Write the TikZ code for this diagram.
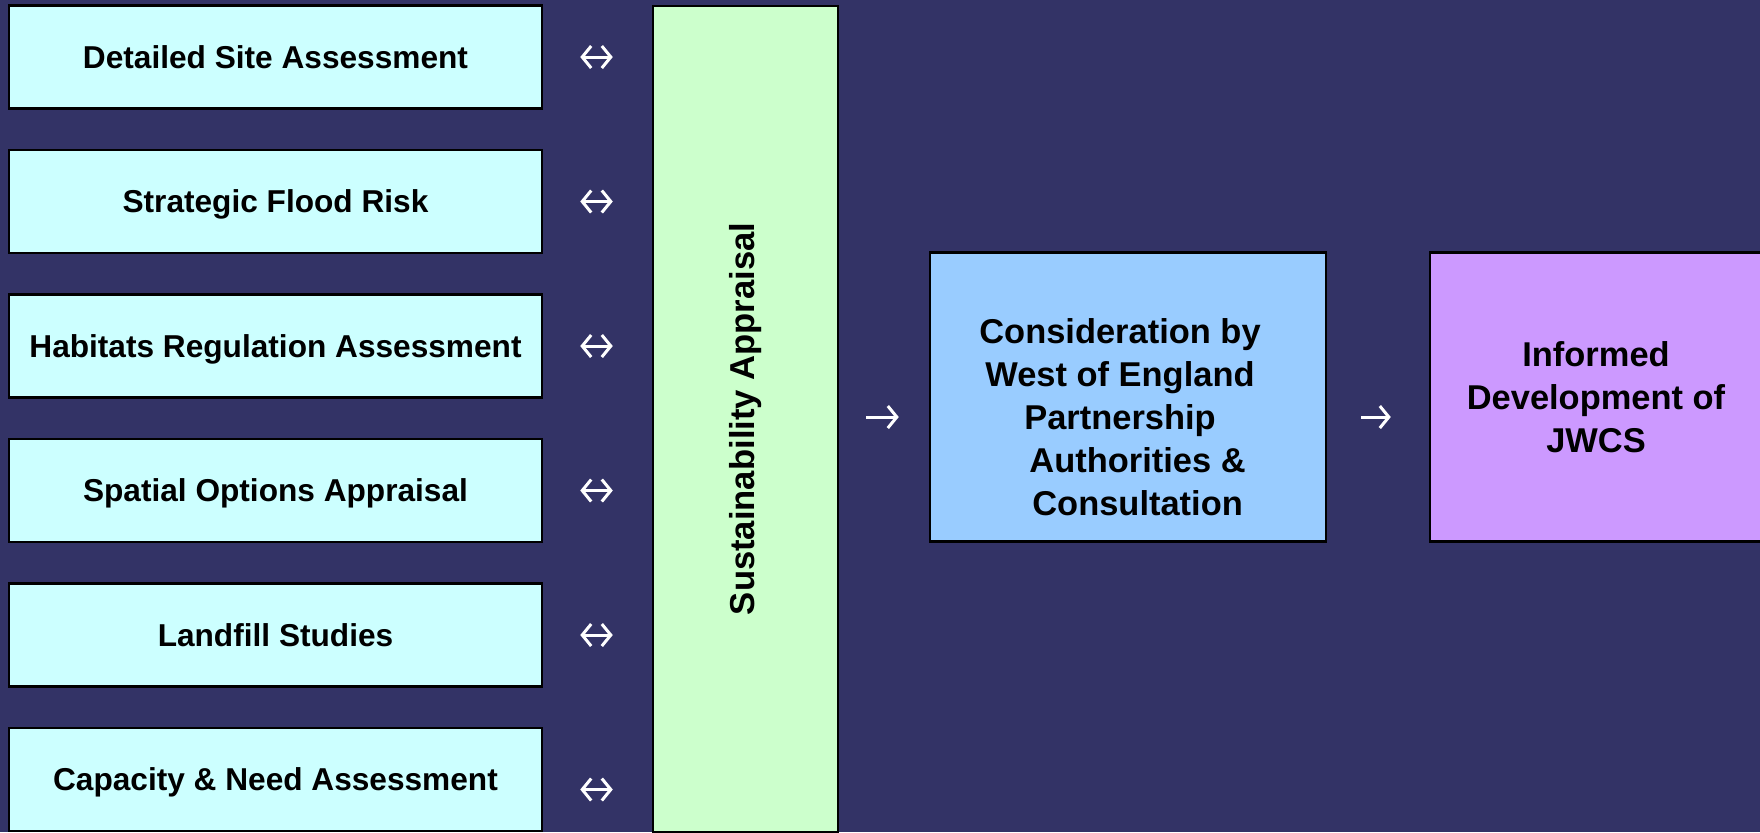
\documentclass[tikz,border=0pt]{standalone}
\usepackage{fontspec}
\setmainfont{Liberation Sans}
\usetikzlibrary{arrows.meta}

\definecolor{bgnavy}{HTML}{333366}
\definecolor{studycyan}{HTML}{CCFFFF}
\definecolor{sagreen}{HTML}{CCFFCC}
\definecolor{consblue}{HTML}{99CCFF}
\definecolor{jwcsviolet}{HTML}{CC99FF}

\tikzset{
  studybox/.style={draw=black, line width=0.25mm, fill=studycyan, inner sep=0pt,
    minimum width=53.3mm, minimum height=10.3mm, align=center,
    text height=6.4pt, text depth=0pt,
    font=\fontsize{9}{11}\selectfont\bfseries},
  stagebox/.style={draw=black, line width=0.25mm, inner sep=0pt, minimum height=28.9mm,
    align=center, font=\fontsize{9.8}{12.2}\selectfont\bfseries},
  link/.style={white, line width=0.3mm, -{Straight Barb[length=0.9mm,width=2.2mm]}},
  bilink/.style={link, {Straight Barb[length=0.9mm,width=2.2mm]}-{Straight Barb[length=0.9mm,width=2.2mm]}}
}

\begin{document}
\begin{tikzpicture}[x=0.1mm,y=-0.1mm]
  \fill[bgnavy] (0,0) rectangle (1760,832);
  \useasboundingbox (0,0) rectangle (1760,832);
  % studies feeding the appraisal
  \foreach \name/\txt [count=\i from 0] in {site/Detailed Site Assessment,
      flood/Strategic Flood Risk, habitat/Habitats Regulation Assessment,
      spatial/Spatial Options Appraisal, landfill/Landfill Studies,
      capacity/Capacity \& Need Assessment}
    \node[studybox] (\name) at (275.5,57+144.5*\i) {\txt};
  \node[draw=black, line width=0.25mm, fill=sagreen, rotate=90, inner sep=0pt,
    minimum width=82.6mm, minimum height=18.5mm,
    font=\fontsize{9.85}{12}\selectfont\bfseries] (sa) at (745.5,418.8) {Sustainability Appraisal};
  \foreach \name in {site,flood,habitat,spatial,landfill}
    \draw[bilink, shorten <=3.7mm, shorten >=3.9mm] (\name.east) -- (\name.east -| sa.north);
  \draw[bilink, shorten <=3.7mm, shorten >=3.9mm] ([yshift=-1mm]capacity.east) -- ([yshift=-1mm]capacity.east -| sa.north);
  % consideration and outcome
  \node[stagebox, fill=consblue, minimum width=39.6mm] (cons) at (1128,397.2) {};
  \node[align=center, inner sep=0pt, font=\fontsize{9.8}{12.2}\selectfont\bfseries] (constext) at (1120,417)
    {Consideration by\\West of England\\Partnership\\\hspace*{10pt}Authorities \&\\\hspace*{10pt}Consultation};
  \node[stagebox, fill=jwcsviolet, minimum width=33.2mm] (jwcs) at (1596,397.2)
    {Informed\\Development of\\JWCS};
  \draw[link, shorten <=2.7mm, shorten >=3.0mm] (sa.south |- constext) -- (constext -| cons.west);
  \draw[link, shorten <=3.4mm, shorten >=3.8mm] (constext -| cons.east) -- (constext -| jwcs.west);
\end{tikzpicture}
\end{document}
